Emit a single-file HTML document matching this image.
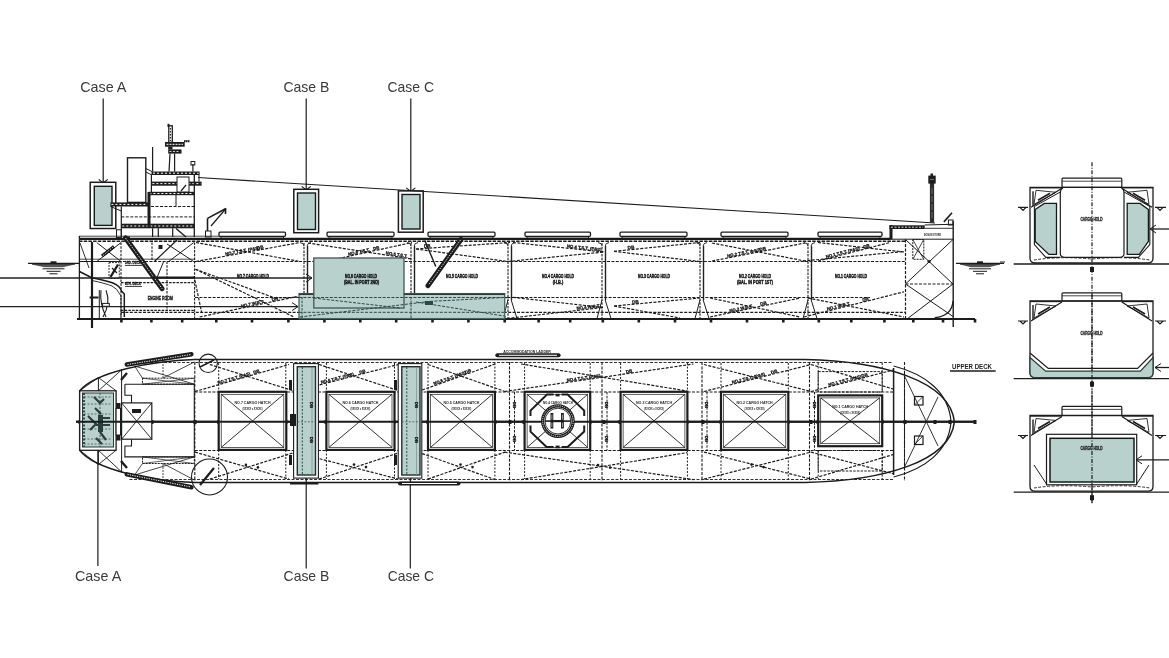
<!DOCTYPE html>
<html><head><meta charset="utf-8"><style>
html,body{margin:0;padding:0;background:#fff;}
body{width:1169px;height:658px;overflow:hidden;font-family:"Liberation Sans",sans-serif;}
svg{display:block;will-change:transform;}
</style></head><body>
<svg width="1169" height="658" viewBox="0 0 1169 658">
<rect width="1169" height="658" fill="#fff"/>
<text x="80.2" y="92" font-family="Liberation Sans" font-size="15" fill="#3a3a3a" font-weight="normal" text-anchor="start" textLength="46.2" lengthAdjust="spacingAndGlyphs">Case A</text>
<text x="283.4" y="92" font-family="Liberation Sans" font-size="15" fill="#3a3a3a" font-weight="normal" text-anchor="start" textLength="46" lengthAdjust="spacingAndGlyphs">Case B</text>
<text x="387.5" y="92" font-family="Liberation Sans" font-size="15" fill="#3a3a3a" font-weight="normal" text-anchor="start" textLength="46.5" lengthAdjust="spacingAndGlyphs">Case C</text>
<text x="75" y="580.5" font-family="Liberation Sans" font-size="15" fill="#3a3a3a" font-weight="normal" text-anchor="start" textLength="46.2" lengthAdjust="spacingAndGlyphs">Case A</text>
<text x="283.6" y="580.8" font-family="Liberation Sans" font-size="15" fill="#3a3a3a" font-weight="normal" text-anchor="start" textLength="45.7" lengthAdjust="spacingAndGlyphs">Case B</text>
<text x="387.7" y="580.8" font-family="Liberation Sans" font-size="15" fill="#3a3a3a" font-weight="normal" text-anchor="start" textLength="46.3" lengthAdjust="spacingAndGlyphs">Case C</text>
<line x1="103.2" y1="98.5" x2="103.2" y2="183" stroke="#1c1c1c" stroke-width="1.2"/>
<path d="M98.7 179.4 L103.2 183 L107.7 179.4" stroke="#1c1c1c" stroke-width="1.1" fill="none"/>
<line x1="306.2" y1="98.5" x2="306.2" y2="190" stroke="#1c1c1c" stroke-width="1.2"/>
<path d="M301.7 186.4 L306.2 190 L310.7 186.4" stroke="#1c1c1c" stroke-width="1.1" fill="none"/>
<line x1="410.8" y1="98.5" x2="410.8" y2="191.5" stroke="#1c1c1c" stroke-width="1.2"/>
<path d="M406.3 187.9 L410.8 191.5 L415.3 187.9" stroke="#1c1c1c" stroke-width="1.1" fill="none"/>
<line x1="97.9" y1="447" x2="97.9" y2="566" stroke="#1c1c1c" stroke-width="1.2"/>
<line x1="306.2" y1="478" x2="306.2" y2="568.5" stroke="#1c1c1c" stroke-width="1.2"/>
<line x1="410.3" y1="478" x2="410.3" y2="568.5" stroke="#1c1c1c" stroke-width="1.2"/>
<rect x="90.2" y="182.3" width="25.6" height="46.2" stroke="#1c1c1c" stroke-width="1.5" fill="#fff"/>
<rect x="94.3" y="186.3" width="17.7" height="39.1" stroke="#141c1b" stroke-width="1.4" fill="#b9d1cd"/>
<rect x="293.8" y="189.3" width="24.8" height="43.4" stroke="#1c1c1c" stroke-width="1.5" fill="#fff"/>
<rect x="297.5" y="193" width="18" height="36.5" stroke="#141c1b" stroke-width="1.4" fill="#b9d1cd"/>
<rect x="398.4" y="190.9" width="24.8" height="41.3" stroke="#1c1c1c" stroke-width="1.5" fill="#fff"/>
<rect x="402" y="194.5" width="18" height="34.5" stroke="#141c1b" stroke-width="1.4" fill="#b9d1cd"/>
<line x1="198" y1="177.5" x2="935" y2="223" stroke="#1c1c1c" stroke-width="1.1"/>
<line x1="79" y1="238.8" x2="890" y2="238.8" stroke="#1c1c1c" stroke-width="2.2"/>
<line x1="79" y1="241.3" x2="905" y2="241.3" stroke="#1c1c1c" stroke-width="1.5" stroke-dasharray="3.5 1.2"/>
<line x1="79" y1="236.2" x2="260" y2="236.2" stroke="#1c1c1c" stroke-width="0.8"/>
<line x1="79.4" y1="236" x2="79.4" y2="319" stroke="#1c1c1c" stroke-width="1.3"/>
<line x1="77" y1="319" x2="975" y2="319" stroke="#1c1c1c" stroke-width="2.2"/>
<rect x="120.1" y="319" width="2.6" height="3.5" fill="#1c1c1c"/>
<rect x="150.1" y="319" width="2.6" height="3.5" fill="#1c1c1c"/>
<rect x="180.9" y="319" width="2.6" height="3.5" fill="#1c1c1c"/>
<rect x="215" y="319" width="2.6" height="3.5" fill="#1c1c1c"/>
<rect x="250.7" y="319" width="2.6" height="3.5" fill="#1c1c1c"/>
<rect x="287.1" y="319" width="2.6" height="3.5" fill="#1c1c1c"/>
<rect x="323.1" y="319" width="2.6" height="3.5" fill="#1c1c1c"/>
<rect x="359" y="319" width="2.6" height="3.5" fill="#1c1c1c"/>
<rect x="394.9" y="319" width="2.6" height="3.5" fill="#1c1c1c"/>
<rect x="431.2" y="319" width="2.6" height="3.5" fill="#1c1c1c"/>
<rect x="467.1" y="319" width="2.6" height="3.5" fill="#1c1c1c"/>
<rect x="503.4" y="319" width="2.6" height="3.5" fill="#1c1c1c"/>
<rect x="537.3" y="319" width="2.6" height="3.5" fill="#1c1c1c"/>
<rect x="568.9" y="319" width="2.6" height="3.5" fill="#1c1c1c"/>
<rect x="601.5" y="319" width="2.6" height="3.5" fill="#1c1c1c"/>
<rect x="637.5" y="319" width="2.6" height="3.5" fill="#1c1c1c"/>
<rect x="673.7" y="319" width="2.6" height="3.5" fill="#1c1c1c"/>
<rect x="709.7" y="319" width="2.6" height="3.5" fill="#1c1c1c"/>
<rect x="745.7" y="319" width="2.6" height="3.5" fill="#1c1c1c"/>
<rect x="782" y="319" width="2.6" height="3.5" fill="#1c1c1c"/>
<rect x="817.5" y="319" width="2.6" height="3.5" fill="#1c1c1c"/>
<rect x="850" y="319" width="2.6" height="3.5" fill="#1c1c1c"/>
<rect x="883.1" y="319" width="2.6" height="3.5" fill="#1c1c1c"/>
<rect x="912" y="319" width="2.6" height="3.5" fill="#1c1c1c"/>
<rect x="941.7" y="319" width="2.6" height="3.5" fill="#1c1c1c"/>
<rect x="973.7" y="319" width="2.6" height="3.5" fill="#1c1c1c"/>
<line x1="92" y1="242" x2="92" y2="328" stroke="#1c1c1c" stroke-width="2.2"/>
<rect x="889.5" y="225" width="3" height="14.5" fill="#1c1c1c"/>
<rect x="889.5" y="225.3" width="35.2" height="3.7" fill="#1c1c1c"/>
<line x1="891" y1="227.2" x2="923" y2="227.2" stroke="#fff" stroke-width="0.8" stroke-dasharray="2 1.5"/>
<line x1="924.7" y1="225" x2="953.5" y2="224.3" stroke="#1c1c1c" stroke-width="1.1"/>
<line x1="924.7" y1="228.3" x2="953.5" y2="228.3" stroke="#1c1c1c" stroke-width="0.9"/>
<line x1="889.5" y1="239.2" x2="953.7" y2="239.2" stroke="#1c1c1c" stroke-width="1"/>
<line x1="953.2" y1="221" x2="953.2" y2="327" stroke="#1c1c1c" stroke-width="1.4"/>
<path d="M953 301 Q952 316 934.7 317.7" stroke="#1c1c1c" stroke-width="1.3" fill="none"/>
<rect x="948.4" y="220" width="4.6" height="5" stroke="#1c1c1c" stroke-width="1" fill="none"/>
<path d="M943.9 221.9 L952 212.7" stroke="#1c1c1c" stroke-width="1.6" fill="none"/>
<text x="924" y="235.5" font-family="Liberation Sans" font-size="4.2" fill="#1c1c1c" font-weight="bold" text-anchor="start" textLength="17" lengthAdjust="spacingAndGlyphs">BOSUN STORE</text>
<rect x="929.9" y="182" width="4.2" height="40.6" fill="#2e2e2e"/>
<line x1="932" y1="188" x2="932" y2="220" stroke="#777" stroke-width="0.8" stroke-dasharray="6 2"/>
<rect x="928.3" y="175.6" width="7.4" height="8" fill="#1c1c1c"/>
<rect x="930.5" y="173.5" width="2.5" height="2.5" fill="#1c1c1c"/>
<line x1="930" y1="179.5" x2="934" y2="179.5" stroke="#888" stroke-width="0.8"/>
<rect x="912.8" y="239.5" width="11" height="19.8" stroke="#1c1c1c" stroke-width="1" fill="none" stroke-dasharray="2 1"/>
<line x1="913" y1="240" x2="923.5" y2="259" stroke="#1c1c1c" stroke-width="0.8"/>
<line x1="923.5" y1="240" x2="913" y2="259" stroke="#1c1c1c" stroke-width="0.8"/>
<line x1="905.5" y1="239.5" x2="905.5" y2="319" stroke="#1c1c1c" stroke-width="1.2" stroke-dasharray="3 1.5"/>
<line x1="905.5" y1="239.5" x2="953" y2="284" stroke="#1c1c1c" stroke-width="1"/>
<line x1="953" y1="239.5" x2="905.5" y2="284" stroke="#1c1c1c" stroke-width="1"/>
<circle cx="929" cy="261.5" r="1.6" stroke="#1c1c1c" stroke-width="0" fill="#1c1c1c"/>
<line x1="905.5" y1="284" x2="953" y2="284" stroke="#1c1c1c" stroke-width="1" stroke-dasharray="3 1.5"/>
<line x1="905.5" y1="284" x2="953" y2="316.5" stroke="#1c1c1c" stroke-width="1"/>
<line x1="953" y1="284" x2="907" y2="319" stroke="#1c1c1c" stroke-width="1"/>
<line x1="79" y1="261.5" x2="905" y2="261.5" stroke="#1c1c1c" stroke-width="1.2" stroke-dasharray="3 1.4"/>
<line x1="79" y1="259.2" x2="195" y2="259.2" stroke="#1c1c1c" stroke-width="0.8"/>
<line x1="195" y1="297.5" x2="870" y2="297.5" stroke="#1c1c1c" stroke-width="1.2" stroke-dasharray="3 1.4"/>
<line x1="121" y1="312.3" x2="905" y2="312.3" stroke="#1c1c1c" stroke-width="1.2" stroke-dasharray="3 1.4"/>
<line x1="304" y1="243" x2="304" y2="318.5" stroke="#1c1c1c" stroke-width="1.1" stroke-dasharray="2.5 1.2"/>
<line x1="307.5" y1="246" x2="307.5" y2="300" stroke="#222" stroke-width="1.4"/>
<path d="M307.2 246 Q307.2 243 311 242.6 M304 246 Q304 243 300 242.6" stroke="#1c1c1c" stroke-width="0.9" fill="none"/>
<path d="M304 300 L299 318.5 M307.2 300 L313 318.5" stroke="#1c1c1c" stroke-width="1" fill="none"/>
<line x1="411" y1="243" x2="411" y2="318.5" stroke="#1c1c1c" stroke-width="1.1" stroke-dasharray="2.5 1.2"/>
<line x1="414.5" y1="246" x2="414.5" y2="300" stroke="#222" stroke-width="1.4"/>
<path d="M414.2 246 Q414.2 243 418 242.6 M411 246 Q411 243 407 242.6" stroke="#1c1c1c" stroke-width="0.9" fill="none"/>
<path d="M411 300 L406 318.5 M414.2 300 L420 318.5" stroke="#1c1c1c" stroke-width="1" fill="none"/>
<line x1="508" y1="243" x2="508" y2="318.5" stroke="#1c1c1c" stroke-width="1.1" stroke-dasharray="2.5 1.2"/>
<line x1="511.5" y1="246" x2="511.5" y2="300" stroke="#222" stroke-width="1.4"/>
<path d="M511.2 246 Q511.2 243 515 242.6 M508 246 Q508 243 504 242.6" stroke="#1c1c1c" stroke-width="0.9" fill="none"/>
<path d="M508 300 L503 318.5 M511.2 300 L517 318.5" stroke="#1c1c1c" stroke-width="1" fill="none"/>
<line x1="602" y1="243" x2="602" y2="318.5" stroke="#1c1c1c" stroke-width="1.1" stroke-dasharray="2.5 1.2"/>
<line x1="605.5" y1="246" x2="605.5" y2="300" stroke="#222" stroke-width="1.4"/>
<path d="M605.2 246 Q605.2 243 609 242.6 M602 246 Q602 243 598 242.6" stroke="#1c1c1c" stroke-width="0.9" fill="none"/>
<path d="M602 300 L597 318.5 M605.2 300 L611 318.5" stroke="#1c1c1c" stroke-width="1" fill="none"/>
<line x1="700" y1="243" x2="700" y2="318.5" stroke="#1c1c1c" stroke-width="1.1" stroke-dasharray="2.5 1.2"/>
<line x1="703.5" y1="246" x2="703.5" y2="300" stroke="#222" stroke-width="1.4"/>
<path d="M703.2 246 Q703.2 243 707 242.6 M700 246 Q700 243 696 242.6" stroke="#1c1c1c" stroke-width="0.9" fill="none"/>
<path d="M700 300 L695 318.5 M703.2 300 L709 318.5" stroke="#1c1c1c" stroke-width="1" fill="none"/>
<line x1="808" y1="243" x2="808" y2="318.5" stroke="#1c1c1c" stroke-width="1.1" stroke-dasharray="2.5 1.2"/>
<line x1="811.5" y1="246" x2="811.5" y2="300" stroke="#222" stroke-width="1.4"/>
<path d="M811.2 246 Q811.2 243 815 242.6 M808 246 Q808 243 804 242.6" stroke="#1c1c1c" stroke-width="0.9" fill="none"/>
<path d="M808 300 L803 318.5 M811.2 300 L817 318.5" stroke="#1c1c1c" stroke-width="1" fill="none"/>
<line x1="194.6" y1="242.6" x2="194.6" y2="319" stroke="#1c1c1c" stroke-width="1.1" stroke-dasharray="2.5 1.2"/>
<line x1="196" y1="261.5" x2="300" y2="242.5" stroke="#1c1c1c" stroke-width="1.2" stroke-dasharray="3 1.4"/>
<line x1="196" y1="242.5" x2="300" y2="261.5" stroke="#1c1c1c" stroke-width="1.2" stroke-dasharray="3 1.4"/>
<line x1="308" y1="243" x2="412" y2="259" stroke="#1c1c1c" stroke-width="1.2" stroke-dasharray="3 1.4"/>
<line x1="325" y1="261.5" x2="412" y2="242.5" stroke="#1c1c1c" stroke-width="1.2" stroke-dasharray="3 1.4"/>
<line x1="416" y1="249" x2="510" y2="242.5" stroke="#1c1c1c" stroke-width="1.2" stroke-dasharray="3 1.4"/>
<line x1="416" y1="249" x2="508" y2="261.5" stroke="#1c1c1c" stroke-width="1.2" stroke-dasharray="3 1.4"/>
<line x1="513" y1="242.5" x2="604" y2="252" stroke="#1c1c1c" stroke-width="1.2" stroke-dasharray="3 1.4"/>
<line x1="508" y1="261.5" x2="604" y2="252" stroke="#1c1c1c" stroke-width="1.2" stroke-dasharray="3 1.4"/>
<line x1="614" y1="251.4" x2="700" y2="242.5" stroke="#1c1c1c" stroke-width="1.2" stroke-dasharray="3 1.4"/>
<line x1="614" y1="251.4" x2="700" y2="261.5" stroke="#1c1c1c" stroke-width="1.2" stroke-dasharray="3 1.4"/>
<line x1="712" y1="243" x2="805" y2="261" stroke="#1c1c1c" stroke-width="1.2" stroke-dasharray="3 1.4"/>
<line x1="712" y1="261" x2="805" y2="243" stroke="#1c1c1c" stroke-width="1.2" stroke-dasharray="3 1.4"/>
<line x1="803" y1="261" x2="904" y2="251.5" stroke="#1c1c1c" stroke-width="1.2" stroke-dasharray="3 1.4"/>
<line x1="818" y1="242.5" x2="904" y2="252" stroke="#1c1c1c" stroke-width="1.2" stroke-dasharray="3 1.4"/>
<line x1="818" y1="261" x2="890" y2="242.5" stroke="#1c1c1c" stroke-width="1.2" stroke-dasharray="3 1.4"/>
<line x1="195.5" y1="269.2" x2="275" y2="298" stroke="#1c1c1c" stroke-width="1.2" stroke-dasharray="3 1.4"/>
<line x1="275" y1="298" x2="298" y2="297.3" stroke="#1c1c1c" stroke-width="1.2" stroke-dasharray="3 1.4"/>
<line x1="195.5" y1="269.2" x2="294" y2="317" stroke="#1c1c1c" stroke-width="1.2" stroke-dasharray="3 1.4"/>
<line x1="199.6" y1="317" x2="296.7" y2="296.6" stroke="#1c1c1c" stroke-width="1.2" stroke-dasharray="3 1.4"/>
<line x1="194" y1="276" x2="201.6" y2="312.3" stroke="#1c1c1c" stroke-width="1.2" stroke-dasharray="3 1.4"/>
<line x1="313.7" y1="298" x2="400" y2="308" stroke="#1c1c1c" stroke-width="1.2" stroke-dasharray="3 1.4"/>
<line x1="300" y1="317" x2="430" y2="301.4" stroke="#1c1c1c" stroke-width="1.2" stroke-dasharray="3 1.4"/>
<line x1="405" y1="309.6" x2="507.6" y2="297.3" stroke="#1c1c1c" stroke-width="1.2" stroke-dasharray="3 1.4"/>
<line x1="416" y1="302" x2="507" y2="317" stroke="#1c1c1c" stroke-width="1.2" stroke-dasharray="3 1.4"/>
<line x1="513" y1="297.3" x2="603" y2="307.5" stroke="#1c1c1c" stroke-width="1.2" stroke-dasharray="3 1.4"/>
<line x1="507" y1="318.5" x2="603" y2="307.5" stroke="#1c1c1c" stroke-width="1.2" stroke-dasharray="3 1.4"/>
<line x1="614" y1="306" x2="700" y2="298" stroke="#1c1c1c" stroke-width="1.2" stroke-dasharray="3 1.4"/>
<line x1="614" y1="306" x2="680" y2="318" stroke="#1c1c1c" stroke-width="1.2" stroke-dasharray="3 1.4"/>
<line x1="710" y1="298" x2="800" y2="317" stroke="#1c1c1c" stroke-width="1.2" stroke-dasharray="3 1.4"/>
<line x1="710" y1="317" x2="800" y2="298" stroke="#1c1c1c" stroke-width="1.2" stroke-dasharray="3 1.4"/>
<line x1="808" y1="298" x2="904" y2="317" stroke="#1c1c1c" stroke-width="1.2" stroke-dasharray="3 1.4"/>
<line x1="804" y1="317" x2="904" y2="291.8" stroke="#1c1c1c" stroke-width="1.2" stroke-dasharray="3 1.4"/>
<text x="242.8" y="252.3" transform="rotate(-10.4 242.8 252.9)" font-family="Liberation Sans" font-size="4.3" font-weight="bold" fill="#1a1a1a" stroke="#1a1a1a" stroke-width="0.3" text-anchor="middle">NO.7 T.S.T. (P&amp;S)</text>
<text x="260.5" y="249.1" transform="rotate(-10.4 260.5 249.7)" font-family="Liberation Sans" font-size="4.6" font-weight="bold" fill="#1a1a1a" stroke="#1a1a1a" stroke-width="0.3" text-anchor="middle">DB</text>
<text x="364.1" y="252.3" transform="rotate(-12.3 364.1 252.9)" font-family="Liberation Sans" font-size="4.3" font-weight="bold" fill="#1a1a1a" stroke="#1a1a1a" stroke-width="0.3" text-anchor="middle">NO.6 T.S.T. &#160; DB</text>
<text x="396.4" y="256" transform="rotate(8.7 396.4 256.6)" font-family="Liberation Sans" font-size="4.3" font-weight="bold" fill="#1a1a1a" stroke="#1a1a1a" stroke-width="0.3" text-anchor="middle">NO.5 T.S.T.</text>
<text x="427.3" y="247.6" transform="rotate(-4 427.3 248.2)" font-family="Liberation Sans" font-size="4.6" font-weight="bold" fill="#1a1a1a" stroke="#1a1a1a" stroke-width="0.3" text-anchor="middle">DB</text>
<text x="584" y="249.3" transform="rotate(6 584 249.9)" font-family="Liberation Sans" font-size="4.3" font-weight="bold" fill="#1a1a1a" stroke="#1a1a1a" stroke-width="0.3" text-anchor="middle">NO.4 T.S.T. (P&amp;S)</text>
<text x="631.2" y="249" transform="rotate(-5.9 631.2 249.6)" font-family="Liberation Sans" font-size="4.6" font-weight="bold" fill="#1a1a1a" stroke="#1a1a1a" stroke-width="0.3" text-anchor="middle">DB</text>
<text x="744.5" y="254.1" transform="rotate(-11 744.5 254.7)" font-family="Liberation Sans" font-size="4.3" font-weight="bold" fill="#1a1a1a" stroke="#1a1a1a" stroke-width="0.3" text-anchor="middle">NO.2 T.S.T. &amp; F.P.</text>
<text x="763.1" y="250.5" transform="rotate(-11 763.1 251.1)" font-family="Liberation Sans" font-size="4.6" font-weight="bold" fill="#1a1a1a" stroke="#1a1a1a" stroke-width="0.3" text-anchor="middle">DB</text>
<text x="843.2" y="253.9" transform="rotate(-14.4 843.2 254.5)" font-family="Liberation Sans" font-size="4.3" font-weight="bold" fill="#1a1a1a" stroke="#1a1a1a" stroke-width="0.3" text-anchor="middle">NO.1 T.S.T. (P&amp;S)</text>
<text x="867" y="247.8" transform="rotate(-14.4 867 248.4)" font-family="Liberation Sans" font-size="4.6" font-weight="bold" fill="#1a1a1a" stroke="#1a1a1a" stroke-width="0.3" text-anchor="middle">DB</text>
<text x="253" y="305.2" transform="rotate(-11.9 253 305.8)" font-family="Liberation Sans" font-size="4.3" font-weight="bold" fill="#1a1a1a" stroke="#1a1a1a" stroke-width="0.3" text-anchor="middle">NO.7 W.B.T.</text>
<text x="275.3" y="300.5" transform="rotate(-11.9 275.3 301.1)" font-family="Liberation Sans" font-size="4.6" font-weight="bold" fill="#1a1a1a" stroke="#1a1a1a" stroke-width="0.3" text-anchor="middle">DB</text>
<text x="425.5" y="306.5" transform="rotate(-6.8 425.5 307.1)" font-family="Liberation Sans" font-size="4.6" font-weight="bold" fill="#1a1a1a" stroke="#1a1a1a" stroke-width="0.3" text-anchor="middle">DB</text>
<text x="588.6" y="308.5" transform="rotate(-6.5 588.6 309.1)" font-family="Liberation Sans" font-size="4.3" font-weight="bold" fill="#1a1a1a" stroke="#1a1a1a" stroke-width="0.3" text-anchor="middle">NO.4 W.B.T.</text>
<text x="635.5" y="303.4" transform="rotate(-5.3 635.5 304)" font-family="Liberation Sans" font-size="4.6" font-weight="bold" fill="#1a1a1a" stroke="#1a1a1a" stroke-width="0.3" text-anchor="middle">DB</text>
<text x="741.5" y="309.8" transform="rotate(-11.9 741.5 310.4)" font-family="Liberation Sans" font-size="4.3" font-weight="bold" fill="#1a1a1a" stroke="#1a1a1a" stroke-width="0.3" text-anchor="middle">NO.2 W.B.T.</text>
<text x="764" y="305" transform="rotate(-11.9 764 305.6)" font-family="Liberation Sans" font-size="4.6" font-weight="bold" fill="#1a1a1a" stroke="#1a1a1a" stroke-width="0.3" text-anchor="middle">DB</text>
<text x="839" y="307.6" transform="rotate(-14.1 839 308.2)" font-family="Liberation Sans" font-size="4.3" font-weight="bold" fill="#1a1a1a" stroke="#1a1a1a" stroke-width="0.3" text-anchor="middle">NO.1 W.B.T.</text>
<text x="866" y="300.8" transform="rotate(-14.1 866 301.4)" font-family="Liberation Sans" font-size="4.6" font-weight="bold" fill="#1a1a1a" stroke="#1a1a1a" stroke-width="0.3" text-anchor="middle">DB</text>
<rect x="221" y="235.5" width="62.5" height="2.5" stroke="#1c1c1c" stroke-width="1" fill="#fff"/>
<rect x="219" y="232.2" width="66.5" height="4.1" stroke="#1c1c1c" stroke-width="1.3" fill="#fff" rx="1"/>
<rect x="329" y="235.5" width="63" height="2.5" stroke="#1c1c1c" stroke-width="1" fill="#fff"/>
<rect x="327" y="232.2" width="67" height="4.1" stroke="#1c1c1c" stroke-width="1.3" fill="#fff" rx="1"/>
<rect x="430" y="235.5" width="63" height="2.5" stroke="#1c1c1c" stroke-width="1" fill="#fff"/>
<rect x="428" y="232.2" width="67" height="4.1" stroke="#1c1c1c" stroke-width="1.3" fill="#fff" rx="1"/>
<rect x="527" y="235.5" width="61.5" height="2.5" stroke="#1c1c1c" stroke-width="1" fill="#fff"/>
<rect x="525" y="232.2" width="65.5" height="4.1" stroke="#1c1c1c" stroke-width="1.3" fill="#fff" rx="1"/>
<rect x="622" y="235.5" width="63" height="2.5" stroke="#1c1c1c" stroke-width="1" fill="#fff"/>
<rect x="620" y="232.2" width="67" height="4.1" stroke="#1c1c1c" stroke-width="1.3" fill="#fff" rx="1"/>
<rect x="723" y="235.5" width="63" height="2.5" stroke="#1c1c1c" stroke-width="1" fill="#fff"/>
<rect x="721" y="232.2" width="67" height="4.1" stroke="#1c1c1c" stroke-width="1.3" fill="#fff" rx="1"/>
<rect x="820" y="235.5" width="60" height="2.5" stroke="#1c1c1c" stroke-width="1" fill="#fff"/>
<rect x="818" y="232.2" width="64" height="4.1" stroke="#1c1c1c" stroke-width="1.3" fill="#fff" rx="1"/>
<text x="253" y="277.5" font-family="Liberation Sans" font-size="5.2" fill="#111" font-weight="bold" text-anchor="middle" stroke="#111" stroke-width="0.4" textLength="32" lengthAdjust="spacingAndGlyphs">NO.7 CARGO HOLD</text>
<text x="462" y="277.5" font-family="Liberation Sans" font-size="5.2" fill="#111" font-weight="bold" text-anchor="middle" stroke="#111" stroke-width="0.4" textLength="32" lengthAdjust="spacingAndGlyphs">NO.5 CARGO HOLD</text>
<text x="558" y="277.5" font-family="Liberation Sans" font-size="5.2" fill="#111" font-weight="bold" text-anchor="middle" stroke="#111" stroke-width="0.4" textLength="32" lengthAdjust="spacingAndGlyphs">NO.4 CARGO HOLD</text>
<text x="558" y="283.5" font-family="Liberation Sans" font-size="5.2" fill="#111" font-weight="bold" text-anchor="middle" stroke="#111" stroke-width="0.4" textLength="10.5" lengthAdjust="spacingAndGlyphs">(H.B.)</text>
<text x="654" y="277.5" font-family="Liberation Sans" font-size="5.2" fill="#111" font-weight="bold" text-anchor="middle" stroke="#111" stroke-width="0.4" textLength="32" lengthAdjust="spacingAndGlyphs">NO.3 CARGO HOLD</text>
<text x="755" y="277.5" font-family="Liberation Sans" font-size="5.2" fill="#111" font-weight="bold" text-anchor="middle" stroke="#111" stroke-width="0.4" textLength="32" lengthAdjust="spacingAndGlyphs">NO.2 CARGO HOLD</text>
<text x="755" y="283.5" font-family="Liberation Sans" font-size="5.2" fill="#111" font-weight="bold" text-anchor="middle" stroke="#111" stroke-width="0.4" textLength="36" lengthAdjust="spacingAndGlyphs">(BAL. IN PORT 1ST)</text>
<text x="851" y="277.5" font-family="Liberation Sans" font-size="5.2" fill="#111" font-weight="bold" text-anchor="middle" stroke="#111" stroke-width="0.4" textLength="32" lengthAdjust="spacingAndGlyphs">NO.1 CARGO HOLD</text>
<rect x="299" y="293.6" width="205.7" height="25" fill="#b9d1cd" stroke="#4a6360" stroke-width="1.3"/><line x1="299" y1="294.2" x2="504.7" y2="294.2" stroke="#2a3c3a" stroke-width="1.4"/>
<rect x="313.8" y="258" width="90.2" height="50" fill="#b9d1cd" stroke="#3f5855" stroke-width="1.3"/>
<text x="361" y="277.5" font-family="Liberation Sans" font-size="5.2" fill="#111" font-weight="bold" text-anchor="middle" stroke="#111" stroke-width="0.4" textLength="32" lengthAdjust="spacingAndGlyphs">NO.6 CARGO HOLD</text>
<text x="361.5" y="283.5" font-family="Liberation Sans" font-size="5.2" fill="#111" font-weight="bold" text-anchor="middle" stroke="#111" stroke-width="0.4" textLength="35" lengthAdjust="spacingAndGlyphs">(BAL. IN PORT 2ND)</text>
<line x1="313.7" y1="298" x2="400" y2="308" stroke="#2a4a46" stroke-width="1" stroke-dasharray="3 1.4"/>
<line x1="300" y1="317" x2="430" y2="301.4" stroke="#2a4a46" stroke-width="1" stroke-dasharray="3 1.4"/>
<line x1="430" y1="301.4" x2="504" y2="297.5" stroke="#2a4a46" stroke-width="1" stroke-dasharray="3 1.4"/>
<line x1="416" y1="302" x2="504" y2="316" stroke="#2a4a46" stroke-width="1" stroke-dasharray="3 1.4"/>
<line x1="299" y1="312.3" x2="504" y2="312.3" stroke="#2a4a46" stroke-width="1" stroke-dasharray="3 1.4"/>
<line x1="299" y1="297.5" x2="504" y2="297.5" stroke="#2a4a46" stroke-width="1" stroke-dasharray="3 1.4"/>
<line x1="411" y1="297" x2="411" y2="318" stroke="#2a4a46" stroke-width="1" stroke-dasharray="2.5 1.2"/>
<line x1="302" y1="297" x2="302" y2="318" stroke="#2a4a46" stroke-width="1" stroke-dasharray="2.5 1.2"/>
<rect x="425" y="301" width="8" height="4" fill="#2a4a46"/>
<path d="M461 239.5 L428 285.6" stroke="#1c1c1c" stroke-width="5" fill="none" stroke-linecap="round"/>
<path d="M460.5 240 L428.5 285" stroke="#fff" stroke-width="1" fill="none" stroke-dasharray="1 1.3"/>
<line x1="424.8" y1="240.5" x2="435.8" y2="266.5" stroke="#1c1c1c" stroke-width="1.4"/>
<line x1="0" y1="278" x2="312" y2="278" stroke="#222" stroke-width="1.4"/>
<path d="M306 274 L312 278 L306 282" stroke="#1c1c1c" stroke-width="1" fill="none"/>
<line x1="0" y1="306.6" x2="298" y2="306.6" stroke="#222" stroke-width="1.4"/>
<path d="M292 302.6 L298 306.6 L292 310.6" stroke="#1c1c1c" stroke-width="1" fill="none"/>
<line x1="28" y1="263.3" x2="79" y2="263.3" stroke="#1c1c1c" stroke-width="1.3"/>
<path d="M32 264.1 L75 264.1 L62.5 266.8 L44.5 266.8 Z" stroke="#1c1c1c" stroke-width="0.6" fill="#555"/>
<line x1="42.5" y1="268.8" x2="64.5" y2="268.8" stroke="#1c1c1c" stroke-width="1"/>
<line x1="46.5" y1="271.3" x2="60.5" y2="271.3" stroke="#1c1c1c" stroke-width="1"/>
<line x1="49.5" y1="273.8" x2="57.5" y2="273.8" stroke="#1c1c1c" stroke-width="1"/>
<rect x="50.5" y="261.3" width="6" height="2" fill="#1c1c1c"/>
<line x1="956" y1="263.3" x2="1004" y2="263.3" stroke="#1c1c1c" stroke-width="1.3"/>
<path d="M960 264.1 L1000 264.1 L989 266.8 L971 266.8 Z" stroke="#1c1c1c" stroke-width="0.6" fill="#555"/>
<line x1="969" y1="268.8" x2="991" y2="268.8" stroke="#1c1c1c" stroke-width="1"/>
<line x1="973" y1="271.3" x2="987" y2="271.3" stroke="#1c1c1c" stroke-width="1"/>
<line x1="976" y1="273.8" x2="984" y2="273.8" stroke="#1c1c1c" stroke-width="1"/>
<rect x="977" y="261.3" width="6" height="2" fill="#1c1c1c"/>
<rect x="127.5" y="157.8" width="18.3" height="44.6" stroke="#1c1c1c" stroke-width="1.4" fill="#fff"/>
<line x1="152.6" y1="147" x2="152.6" y2="171.5" stroke="#1c1c1c" stroke-width="1.2"/>
<rect x="168.8" y="125.8" width="3.5" height="16.6" stroke="#1c1c1c" stroke-width="1.3" fill="#fff"/>
<line x1="170.5" y1="128" x2="170.5" y2="141" stroke="#1c1c1c" stroke-width="1" stroke-dasharray="1.5 1.5"/>
<rect x="167.5" y="123.8" width="2" height="3.2" fill="#1c1c1c"/>
<rect x="165" y="142" width="19.7" height="4.7" fill="#1c1c1c"/>
<line x1="166.5" y1="144.3" x2="183" y2="144.3" stroke="#fff" stroke-width="1" stroke-dasharray="2 1"/>
<rect x="184" y="140.2" width="5.5" height="2" fill="#1c1c1c"/>
<line x1="185" y1="141.2" x2="189" y2="141.2" stroke="#fff" stroke-width="0.6" stroke-dasharray="1 1"/>
<rect x="168.2" y="146.5" width="4.3" height="3" fill="#1c1c1c"/>
<rect x="168.2" y="149.4" width="13.3" height="4.2" fill="#1c1c1c"/>
<line x1="169.5" y1="151.5" x2="180" y2="151.5" stroke="#fff" stroke-width="0.8" stroke-dasharray="2 1.5"/>
<line x1="170" y1="153.6" x2="169" y2="171.5" stroke="#1c1c1c" stroke-width="1.2"/>
<line x1="174.6" y1="153.6" x2="174.6" y2="171.5" stroke="#1c1c1c" stroke-width="1.2"/>
<line x1="192.9" y1="164" x2="192.9" y2="171.5" stroke="#1c1c1c" stroke-width="1.2"/>
<rect x="191" y="161.5" width="3.8" height="3.5" stroke="#1c1c1c" stroke-width="1" fill="none"/>
<rect x="152" y="171.5" width="47.6" height="3.5" fill="#1c1c1c"/>
<line x1="153" y1="173.2" x2="198.6" y2="173.2" stroke="#fff" stroke-width="1" stroke-dasharray="2 2"/>
<path d="M145.8 168.5 L152 171.5 L152 175 L145.8 172" stroke="#1c1c1c" stroke-width="1" fill="none"/>
<rect x="151.4" y="181.6" width="50.2" height="4.1" fill="#1c1c1c"/>
<line x1="152.4" y1="183.6" x2="200.6" y2="183.6" stroke="#fff" stroke-width="1" stroke-dasharray="2 2"/>
<rect x="148.4" y="191.8" width="45.9" height="3.4" fill="#1c1c1c"/>
<line x1="149.4" y1="193.5" x2="193.3" y2="193.5" stroke="#fff" stroke-width="1" stroke-dasharray="2 2"/>
<rect x="110.4" y="202.4" width="38" height="4.1" fill="#1c1c1c"/>
<line x1="111.4" y1="204.4" x2="147.4" y2="204.4" stroke="#fff" stroke-width="1" stroke-dasharray="2 2"/>
<rect x="121.3" y="223.7" width="73" height="4.6" fill="#1c1c1c"/>
<line x1="122.3" y1="226" x2="193.3" y2="226" stroke="#fff" stroke-width="1" stroke-dasharray="2 2"/>
<line x1="199" y1="175" x2="199" y2="181.6" stroke="#1c1c1c" stroke-width="1"/>
<line x1="151.4" y1="175" x2="151.4" y2="192" stroke="#1c1c1c" stroke-width="1.2"/>
<line x1="194.3" y1="175" x2="194.3" y2="237" stroke="#1c1c1c" stroke-width="1.3"/>
<rect x="147.5" y="192" width="3" height="36" fill="#1c1c1c"/>
<line x1="121.3" y1="206.5" x2="121.3" y2="237" stroke="#1c1c1c" stroke-width="1.2"/>
<line x1="151" y1="206.5" x2="194.3" y2="206.5" stroke="#1c1c1c" stroke-width="1" stroke-dasharray="3 1.5"/>
<line x1="121.3" y1="216.9" x2="194.3" y2="216.9" stroke="#1c1c1c" stroke-width="1" stroke-dasharray="3 1.5"/>
<line x1="176" y1="195" x2="176" y2="206" stroke="#1c1c1c" stroke-width="1"/>
<rect x="177" y="177" width="12" height="15" stroke="#1c1c1c" stroke-width="1" fill="#fff"/>
<path d="M181 191 L186 185" stroke="#1c1c1c" stroke-width="1.2" fill="none"/>
<rect x="116.5" y="229.8" width="4.8" height="7.7" stroke="#1c1c1c" stroke-width="1" fill="none"/>
<line x1="152.6" y1="228.3" x2="152.6" y2="237" stroke="#1c1c1c" stroke-width="1.2"/>
<line x1="158.3" y1="228.3" x2="158.3" y2="237" stroke="#1c1c1c" stroke-width="1.2"/>
<line x1="172.7" y1="228.3" x2="172.7" y2="237" stroke="#1c1c1c" stroke-width="1.2"/>
<path d="M176 228.5 L186 237" stroke="#1c1c1c" stroke-width="1.4" fill="none"/>
<path d="M110.5 206.5 L121.3 211" stroke="#1c1c1c" stroke-width="1" fill="none"/>
<rect x="205.5" y="231" width="5.5" height="6" stroke="#1c1c1c" stroke-width="1" fill="none"/>
<line x1="207.5" y1="231" x2="207.5" y2="218.4" stroke="#1c1c1c" stroke-width="1.6"/>
<line x1="207.5" y1="218.4" x2="226" y2="208.5" stroke="#1c1c1c" stroke-width="1.6"/>
<line x1="211" y1="226" x2="226" y2="208.5" stroke="#1c1c1c" stroke-width="1.2"/>
<line x1="225.5" y1="208.5" x2="225.5" y2="214" stroke="#1c1c1c" stroke-width="1.6"/>
<rect x="124" y="236.5" width="6" height="3.5" fill="#1c1c1c"/>
<path d="M125.5 238 L162 288.6" stroke="#1c1c1c" stroke-width="5" fill="none" stroke-linecap="round"/>
<path d="M125.5 238 L162 288.6" stroke="#fff" stroke-width="1" fill="none" stroke-dasharray="1 1.2"/>
<line x1="96.8" y1="242.6" x2="121" y2="261.5" stroke="#1c1c1c" stroke-width="1"/>
<line x1="121" y1="242.6" x2="96.8" y2="261.5" stroke="#1c1c1c" stroke-width="1"/>
<path d="M102 256 L114 246.5" stroke="#1c1c1c" stroke-width="3.4" fill="none"/>
<path d="M103 255.5 L113 247" stroke="#fff" stroke-width="0.8" fill="none" stroke-dasharray="1.5 1.5"/>
<line x1="79.5" y1="261.5" x2="121" y2="261.5" stroke="#1c1c1c" stroke-width="1.2"/>
<line x1="80" y1="243" x2="89" y2="268" stroke="#1c1c1c" stroke-width="0.9"/>
<line x1="152" y1="242.6" x2="152" y2="261.5" stroke="#1c1c1c" stroke-width="1.1" stroke-dasharray="2.5 1.2"/>
<line x1="167" y1="261.5" x2="167" y2="310.3" stroke="#1c1c1c" stroke-width="1.1" stroke-dasharray="2.5 1.2"/>
<line x1="121" y1="242.6" x2="121" y2="319" stroke="#1c1c1c" stroke-width="1.1" stroke-dasharray="2.5 1.2"/>
<line x1="167" y1="244" x2="193.7" y2="261.5" stroke="#1c1c1c" stroke-width="1"/>
<line x1="168.7" y1="261.5" x2="193.7" y2="242.6" stroke="#1c1c1c" stroke-width="1"/>
<path d="M154.4 261.5 L177 240" stroke="#1c1c1c" stroke-width="1.2" fill="none"/>
<rect x="158.5" y="245" width="4" height="4" fill="#1c1c1c"/>
<path d="M163.6 261.5 L157 277.7" stroke="#1c1c1c" stroke-width="1" fill="none"/>
<line x1="152" y1="277.7" x2="195" y2="277.7" stroke="#1c1c1c" stroke-width="2.2"/>
<line x1="121" y1="282.7" x2="195" y2="282.7" stroke="#1c1c1c" stroke-width="1.2" stroke-dasharray="2.5 1.2"/>
<line x1="121" y1="310.3" x2="195" y2="310.3" stroke="#1c1c1c" stroke-width="1.2" stroke-dasharray="2.5 1.2"/>
<rect x="109" y="262.6" width="10.3" height="15.9" stroke="#1c1c1c" stroke-width="0.9" fill="none" stroke-dasharray="2 1"/>
<path d="M110.5 277 L118 264.5" stroke="#1c1c1c" stroke-width="2.4" fill="none"/>
<path d="M112 268 L117 273" stroke="#1c1c1c" stroke-width="1.2" fill="none"/>
<text x="160.3" y="299.5" font-family="Liberation Sans" font-size="5" fill="#1c1c1c" font-weight="bold" text-anchor="middle" stroke="#1c1c1c" stroke-width="0.35" textLength="25" lengthAdjust="spacingAndGlyphs">ENGINE ROOM</text>
<text x="133" y="263.5" font-family="Liberation Sans" font-size="4.4" fill="#1c1c1c" font-weight="bold" text-anchor="middle" stroke="#1c1c1c" stroke-width="0.3" textLength="16" lengthAdjust="spacingAndGlyphs">3RD. DECK</text>
<text x="133" y="284.5" font-family="Liberation Sans" font-size="4.4" fill="#1c1c1c" font-weight="bold" text-anchor="middle" stroke="#1c1c1c" stroke-width="0.3" textLength="16" lengthAdjust="spacingAndGlyphs">4TH. DECK</text>
<line x1="125" y1="265.5" x2="142" y2="265.5" stroke="#1c1c1c" stroke-width="0.8"/>
<line x1="125" y1="286.5" x2="142" y2="286.5" stroke="#1c1c1c" stroke-width="0.8"/>
<path d="M79.5 271.5 L91.7 277.7 Q108 281 113 283 Q120 286 121.5 291 L124.3 294 L124.3 317" stroke="#1c1c1c" stroke-width="1.5" fill="none"/>
<path d="M92 280.5 Q106 283.5 112 286 Q117.5 289 119 293 L121 296 L121 317" stroke="#1c1c1c" stroke-width="0.9" fill="none"/>
<path d="M101 290.2 Q99.5 303 106 317 M106 290.2 Q111 303 103 317" stroke="#1c1c1c" stroke-width="1.1" fill="none"/>
<path d="M99.3 290 L99.3 319" stroke="#1c1c1c" stroke-width="1" fill="none"/>
<rect x="102.6" y="303.4" width="6.7" height="2.9" stroke="#1c1c1c" stroke-width="1" fill="#fff"/>
<rect x="89.6" y="296.5" width="8.9" height="2" fill="#1c1c1c"/>
<path d="M195 359.5 L805 359.5 C882 361 950 381 954.4 421.8 C950 462 882 481 805 482.5 L195 482.5 C150 481 95 470 79.7 450.3 L79.7 390.8 C95 372 150 361 195 359.5 Z" stroke="#1c1c1c" stroke-width="1.5" fill="none"/>
<path d="M128 362.5 L893 362.5 M893 479.5 L128 479.5" stroke="#1c1c1c" stroke-width="0.9" fill="none" stroke-dasharray="3 1.5"/>
<path d="M893.6 366 C925 374 949 392 951 421.8 C949 451 925 469 893.6 477" stroke="#1c1c1c" stroke-width="1.2" fill="none"/>
<line x1="893.6" y1="368" x2="893.6" y2="475" stroke="#1c1c1c" stroke-width="1.5"/>
<line x1="904.5" y1="372" x2="904.5" y2="471" stroke="#1c1c1c" stroke-width="1" stroke-dasharray="3 1.5"/>
<line x1="904.5" y1="376" x2="938" y2="446" stroke="#1c1c1c" stroke-width="0.9"/>
<line x1="904.5" y1="467" x2="938" y2="397" stroke="#1c1c1c" stroke-width="0.9"/>
<rect x="914.5" y="396.5" width="8.5" height="8.5" stroke="#1c1c1c" stroke-width="1.2" fill="none"/>
<line x1="915" y1="404.5" x2="922.5" y2="397" stroke="#1c1c1c" stroke-width="0.8"/>
<rect x="914.5" y="436" width="8.5" height="8.5" stroke="#1c1c1c" stroke-width="1.2" fill="none"/>
<line x1="915" y1="444" x2="922.5" y2="436.5" stroke="#1c1c1c" stroke-width="0.8"/>
<text x="952" y="369" font-family="Liberation Sans" font-size="6.8" fill="#222" font-weight="bold" text-anchor="start" textLength="40" lengthAdjust="spacingAndGlyphs">UPPER  DECK</text>
<line x1="950" y1="371" x2="995.7" y2="371" stroke="#1c1c1c" stroke-width="1.3"/>
<line x1="76" y1="421.8" x2="975" y2="421.8" stroke="#1c1c1c" stroke-width="2"/>
<rect x="78.5" y="420" width="3" height="4" fill="#1c1c1c"/>
<rect x="119.5" y="420" width="3" height="4" fill="#1c1c1c"/>
<rect x="150.5" y="420" width="3" height="4" fill="#1c1c1c"/>
<rect x="193.5" y="420" width="3" height="4" fill="#1c1c1c"/>
<rect x="217.2" y="420" width="3" height="4" fill="#1c1c1c"/>
<rect x="248.5" y="420" width="3" height="4" fill="#1c1c1c"/>
<rect x="284.5" y="420" width="3" height="4" fill="#1c1c1c"/>
<rect x="304.5" y="420" width="3" height="4" fill="#1c1c1c"/>
<rect x="324.5" y="420" width="3" height="4" fill="#1c1c1c"/>
<rect x="359.5" y="420" width="3" height="4" fill="#1c1c1c"/>
<rect x="392.5" y="420" width="3" height="4" fill="#1c1c1c"/>
<rect x="409.5" y="420" width="3" height="4" fill="#1c1c1c"/>
<rect x="426.5" y="420" width="3" height="4" fill="#1c1c1c"/>
<rect x="459.5" y="420" width="3" height="4" fill="#1c1c1c"/>
<rect x="493.5" y="420" width="3" height="4" fill="#1c1c1c"/>
<rect x="508.5" y="420" width="3" height="4" fill="#1c1c1c"/>
<rect x="522.5" y="420" width="3" height="4" fill="#1c1c1c"/>
<rect x="556.5" y="420" width="3" height="4" fill="#1c1c1c"/>
<rect x="588.5" y="420" width="3" height="4" fill="#1c1c1c"/>
<rect x="602.5" y="420" width="3" height="4" fill="#1c1c1c"/>
<rect x="618.5" y="420" width="3" height="4" fill="#1c1c1c"/>
<rect x="653.5" y="420" width="3" height="4" fill="#1c1c1c"/>
<rect x="685.5" y="420" width="3" height="4" fill="#1c1c1c"/>
<rect x="701.5" y="420" width="3" height="4" fill="#1c1c1c"/>
<rect x="719.5" y="420" width="3" height="4" fill="#1c1c1c"/>
<rect x="753.5" y="420" width="3" height="4" fill="#1c1c1c"/>
<rect x="786.5" y="420" width="3" height="4" fill="#1c1c1c"/>
<rect x="809.5" y="420" width="3" height="4" fill="#1c1c1c"/>
<rect x="816.5" y="420" width="3" height="4" fill="#1c1c1c"/>
<rect x="848.5" y="420" width="3" height="4" fill="#1c1c1c"/>
<rect x="880.5" y="420" width="3" height="4" fill="#1c1c1c"/>
<rect x="903.5" y="420" width="3" height="4" fill="#1c1c1c"/>
<rect x="933.5" y="420" width="3" height="4" fill="#1c1c1c"/>
<rect x="948.5" y="420" width="3" height="4" fill="#1c1c1c"/>
<rect x="973.5" y="420" width="3" height="4" fill="#1c1c1c"/>
<rect x="79.7" y="390.8" width="36.4" height="59.5" stroke="#1c1c1c" stroke-width="1.3" fill="#fff"/>
<rect x="82.5" y="393" width="31" height="54" fill="#b9d1cd" stroke="#263a37" stroke-width="1"/>
<line x1="84" y1="397" x2="112" y2="397" stroke="#3c5a56" stroke-width="0.8" stroke-dasharray="2 1.5"/>
<line x1="84" y1="404" x2="112" y2="404" stroke="#3c5a56" stroke-width="0.8" stroke-dasharray="2 1.5"/>
<line x1="84" y1="414" x2="112" y2="414" stroke="#3c5a56" stroke-width="0.8" stroke-dasharray="2 1.5"/>
<line x1="84" y1="429" x2="112" y2="429" stroke="#3c5a56" stroke-width="0.8" stroke-dasharray="2 1.5"/>
<line x1="84" y1="439" x2="112" y2="439" stroke="#3c5a56" stroke-width="0.8" stroke-dasharray="2 1.5"/>
<line x1="84" y1="444" x2="112" y2="444" stroke="#3c5a56" stroke-width="0.8" stroke-dasharray="2 1.5"/>
<line x1="84" y1="393" x2="84" y2="447" stroke="#2a3f3c" stroke-width="1.8" stroke-dasharray="2 1.5"/>
<line x1="100" y1="393" x2="100" y2="447" stroke="#2a3f3c" stroke-width="0.8" stroke-dasharray="2 1.5"/>
<path d="M94 397 L100 403 L104 399 M95 408 L101 414 M88 416 L96 424 L90 430 M98 418 L110 418 M96 425 L110 425 M100 432 L106 440 M96 438 L102 444" stroke="#2a3f3c" stroke-width="2.2" fill="none"/>
<rect x="98" y="415" width="5" height="17" fill="#2a3f3c"/>
<rect x="116.1" y="403" width="4.4" height="5.4" fill="#1c1c1c"/>
<rect x="116.1" y="435" width="4.4" height="5.5" fill="#1c1c1c"/>
<rect x="116.1" y="408.4" width="4.4" height="26.6" stroke="#1c1c1c" stroke-width="1" fill="#fff"/>
<line x1="98.4" y1="377.5" x2="98.4" y2="390.8" stroke="#1c1c1c" stroke-width="1"/>
<line x1="121.6" y1="369.8" x2="121.6" y2="402.9" stroke="#1c1c1c" stroke-width="1"/>
<line x1="98.4" y1="390.8" x2="121.6" y2="369.8" stroke="#1c1c1c" stroke-width="0.9"/>
<line x1="98.4" y1="377.5" x2="116.1" y2="390.8" stroke="#1c1c1c" stroke-width="0.9"/>
<line x1="98.4" y1="464.5" x2="98.4" y2="450.3" stroke="#1c1c1c" stroke-width="1"/>
<line x1="121.6" y1="472" x2="121.6" y2="439.2" stroke="#1c1c1c" stroke-width="1"/>
<line x1="98.4" y1="450.3" x2="121.6" y2="472" stroke="#1c1c1c" stroke-width="0.9"/>
<line x1="98.4" y1="464.5" x2="116.1" y2="450.3" stroke="#1c1c1c" stroke-width="0.9"/>
<line x1="79.7" y1="390.8" x2="98.4" y2="377.5" stroke="#1c1c1c" stroke-width="0.8"/>
<line x1="79.7" y1="450.3" x2="98.4" y2="464.5" stroke="#1c1c1c" stroke-width="0.8"/>
<path d="M121 380 L127 373" stroke="#1c1c1c" stroke-width="2.4" fill="none"/>
<path d="M121 461 L127 468" stroke="#1c1c1c" stroke-width="2.4" fill="none"/>
<rect x="121.6" y="402.9" width="30.2" height="36.3" stroke="#1c1c1c" stroke-width="1.2" fill="#fff"/>
<line x1="121.6" y1="402.9" x2="151.8" y2="439.2" stroke="#1c1c1c" stroke-width="0.9"/>
<line x1="151.8" y1="402.9" x2="121.6" y2="439.2" stroke="#1c1c1c" stroke-width="0.9"/>
<rect x="132" y="409" width="9" height="4" fill="#1c1c1c"/>
<path d="M124.9 384.2 L124.9 395.2 L131.5 395.2 L131.5 402.9 M131.5 439.2 L131.5 446 L124.9 446 L124.9 456.9 L194.3 456.9 L194.3 384.2 L124.9 384.2" stroke="#1c1c1c" stroke-width="1.1" fill="none"/>
<rect x="142.5" y="378.2" width="51.8" height="6" stroke="#1c1c1c" stroke-width="1" fill="none" stroke-dasharray="2 1"/>
<line x1="142.5" y1="378.2" x2="194.3" y2="384.2" stroke="#1c1c1c" stroke-width="0.7"/>
<line x1="142.5" y1="384.2" x2="194.3" y2="378.2" stroke="#1c1c1c" stroke-width="0.7"/>
<rect x="142.5" y="456.9" width="51.8" height="6.6" stroke="#1c1c1c" stroke-width="1" fill="none" stroke-dasharray="2 1"/>
<line x1="142.5" y1="456.9" x2="194.3" y2="463.5" stroke="#1c1c1c" stroke-width="0.7"/>
<line x1="142.5" y1="463.5" x2="194.3" y2="456.9" stroke="#1c1c1c" stroke-width="0.7"/>
<line x1="134.6" y1="366" x2="142.5" y2="378.2" stroke="#1c1c1c" stroke-width="0.8"/>
<line x1="134.6" y1="475" x2="142.5" y2="463.5" stroke="#1c1c1c" stroke-width="0.8"/>
<line x1="163" y1="361" x2="163" y2="378.2" stroke="#1c1c1c" stroke-width="0.8" stroke-dasharray="2 1"/>
<line x1="163" y1="481" x2="163" y2="463.5" stroke="#1c1c1c" stroke-width="0.8" stroke-dasharray="2 1"/>
<line x1="134.6" y1="366" x2="194.3" y2="384.2" stroke="#1c1c1c" stroke-width="0.8"/>
<line x1="194.3" y1="362" x2="163" y2="378" stroke="#1c1c1c" stroke-width="0.8"/>
<line x1="134.6" y1="475" x2="194.3" y2="456.9" stroke="#1c1c1c" stroke-width="0.8"/>
<line x1="194.3" y1="480" x2="163" y2="463.5" stroke="#1c1c1c" stroke-width="0.8"/>
<path d="M126.8 364.5 L191.4 354.2" stroke="#1c1c1c" stroke-width="4.5" fill="none" stroke-linecap="round"/>
<path d="M127.5 364.5 L191 354.5" stroke="#fff" stroke-width="1" fill="none" stroke-dasharray="1.2 1.2"/>
<path d="M126.8 474.4 L191.4 487.3" stroke="#1c1c1c" stroke-width="4.5" fill="none" stroke-linecap="round"/>
<path d="M127.5 474.4 L191 487" stroke="#fff" stroke-width="1" fill="none" stroke-dasharray="1.2 1.2"/>
<path d="M497.3 355.3 L558.6 355.3" stroke="#1c1c1c" stroke-width="4" fill="none" stroke-linecap="round"/>
<path d="M499 355.3 L557 355.3" stroke="#fff" stroke-width="1" fill="none"/>
<text x="527" y="352.5" font-family="Liberation Sans" font-size="3.5" fill="#1c1c1c" font-weight="bold" text-anchor="middle">ACCOMMODATION LADDER</text>
<path d="M400 483.5 L458.4 483.5" stroke="#1c1c1c" stroke-width="4" fill="none" stroke-linecap="round"/>
<path d="M402 483.5 L457 483.5" stroke="#fff" stroke-width="1" fill="none"/>
<circle cx="208.2" cy="363.3" r="9.2" stroke="#1c1c1c" stroke-width="1.1" fill="none"/>
<circle cx="209.5" cy="477" r="18" stroke="#1c1c1c" stroke-width="1.1" fill="none"/>
<line x1="200" y1="485" x2="214" y2="468" stroke="#1c1c1c" stroke-width="2.2"/>
<line x1="200" y1="367" x2="214" y2="360" stroke="#1c1c1c" stroke-width="1.5"/>
<line x1="194.8" y1="362" x2="194.8" y2="481" stroke="#1c1c1c" stroke-width="1.1" stroke-dasharray="3 1.4"/>
<line x1="306" y1="362" x2="306" y2="481" stroke="#1c1c1c" stroke-width="1.1" stroke-dasharray="3 1.4"/>
<line x1="411" y1="362" x2="411" y2="481" stroke="#1c1c1c" stroke-width="1.1" stroke-dasharray="3 1.4"/>
<line x1="904.5" y1="362" x2="904.5" y2="481" stroke="#1c1c1c" stroke-width="1.1" stroke-dasharray="3 1.4"/>
<line x1="509.5" y1="362" x2="509.5" y2="481" stroke="#1c1c1c" stroke-width="1.1" stroke-dasharray="3 1.4"/>
<line x1="514.5" y1="392" x2="514.5" y2="450.5" stroke="#1c1c1c" stroke-width="1" stroke-dasharray="2.5 1.3"/>
<text x="512" y="404.4" transform="rotate(90 512 405)" font-family="Liberation Sans" font-size="4.4" font-weight="bold" fill="#1a1a1a" stroke="#1a1a1a" stroke-width="0.3" text-anchor="middle">DB</text>
<text x="512" y="438.4" transform="rotate(90 512 439)" font-family="Liberation Sans" font-size="4.4" font-weight="bold" fill="#1a1a1a" stroke="#1a1a1a" stroke-width="0.3" text-anchor="middle">DB</text>
<line x1="602" y1="362" x2="602" y2="481" stroke="#1c1c1c" stroke-width="1.1" stroke-dasharray="3 1.4"/>
<line x1="607" y1="392" x2="607" y2="450.5" stroke="#1c1c1c" stroke-width="1" stroke-dasharray="2.5 1.3"/>
<text x="604.5" y="404.4" transform="rotate(90 604.5 405)" font-family="Liberation Sans" font-size="4.4" font-weight="bold" fill="#1a1a1a" stroke="#1a1a1a" stroke-width="0.3" text-anchor="middle">DB</text>
<text x="604.5" y="438.4" transform="rotate(90 604.5 439)" font-family="Liberation Sans" font-size="4.4" font-weight="bold" fill="#1a1a1a" stroke="#1a1a1a" stroke-width="0.3" text-anchor="middle">DB</text>
<line x1="702" y1="362" x2="702" y2="481" stroke="#1c1c1c" stroke-width="1.1" stroke-dasharray="3 1.4"/>
<line x1="707" y1="392" x2="707" y2="450.5" stroke="#1c1c1c" stroke-width="1" stroke-dasharray="2.5 1.3"/>
<text x="704.5" y="404.4" transform="rotate(90 704.5 405)" font-family="Liberation Sans" font-size="4.4" font-weight="bold" fill="#1a1a1a" stroke="#1a1a1a" stroke-width="0.3" text-anchor="middle">DB</text>
<text x="704.5" y="438.4" transform="rotate(90 704.5 439)" font-family="Liberation Sans" font-size="4.4" font-weight="bold" fill="#1a1a1a" stroke="#1a1a1a" stroke-width="0.3" text-anchor="middle">DB</text>
<line x1="809.5" y1="362" x2="809.5" y2="481" stroke="#1c1c1c" stroke-width="1.1" stroke-dasharray="3 1.4"/>
<line x1="814.5" y1="392" x2="814.5" y2="450.5" stroke="#1c1c1c" stroke-width="1" stroke-dasharray="2.5 1.3"/>
<text x="812" y="404.4" transform="rotate(90 812 405)" font-family="Liberation Sans" font-size="4.4" font-weight="bold" fill="#1a1a1a" stroke="#1a1a1a" stroke-width="0.3" text-anchor="middle">DB</text>
<text x="812" y="438.4" transform="rotate(90 812 439)" font-family="Liberation Sans" font-size="4.4" font-weight="bold" fill="#1a1a1a" stroke="#1a1a1a" stroke-width="0.3" text-anchor="middle">DB</text>
<line x1="218.7" y1="363" x2="218.7" y2="391.8" stroke="#1c1c1c" stroke-width="1" stroke-dasharray="2 1.5"/>
<line x1="218.7" y1="450" x2="218.7" y2="479" stroke="#1c1c1c" stroke-width="1" stroke-dasharray="2 1.5"/>
<line x1="285.8" y1="363" x2="285.8" y2="391.8" stroke="#1c1c1c" stroke-width="1" stroke-dasharray="2 1.5"/>
<line x1="285.8" y1="450" x2="285.8" y2="479" stroke="#1c1c1c" stroke-width="1" stroke-dasharray="2 1.5"/>
<line x1="326.4" y1="363" x2="326.4" y2="391.8" stroke="#1c1c1c" stroke-width="1" stroke-dasharray="2 1.5"/>
<line x1="326.4" y1="450" x2="326.4" y2="479" stroke="#1c1c1c" stroke-width="1" stroke-dasharray="2 1.5"/>
<line x1="394.5" y1="363" x2="394.5" y2="391.8" stroke="#1c1c1c" stroke-width="1" stroke-dasharray="2 1.5"/>
<line x1="394.5" y1="450" x2="394.5" y2="479" stroke="#1c1c1c" stroke-width="1" stroke-dasharray="2 1.5"/>
<line x1="428" y1="363" x2="428" y2="391.8" stroke="#1c1c1c" stroke-width="1" stroke-dasharray="2 1.5"/>
<line x1="428" y1="450" x2="428" y2="479" stroke="#1c1c1c" stroke-width="1" stroke-dasharray="2 1.5"/>
<line x1="494.9" y1="363" x2="494.9" y2="391.8" stroke="#1c1c1c" stroke-width="1" stroke-dasharray="2 1.5"/>
<line x1="494.9" y1="450" x2="494.9" y2="479" stroke="#1c1c1c" stroke-width="1" stroke-dasharray="2 1.5"/>
<line x1="524.6" y1="363" x2="524.6" y2="391.8" stroke="#1c1c1c" stroke-width="1" stroke-dasharray="2 1.5"/>
<line x1="524.6" y1="450" x2="524.6" y2="479" stroke="#1c1c1c" stroke-width="1" stroke-dasharray="2 1.5"/>
<line x1="590.2" y1="363" x2="590.2" y2="391.8" stroke="#1c1c1c" stroke-width="1" stroke-dasharray="2 1.5"/>
<line x1="590.2" y1="450" x2="590.2" y2="479" stroke="#1c1c1c" stroke-width="1" stroke-dasharray="2 1.5"/>
<line x1="620.6" y1="363" x2="620.6" y2="391.8" stroke="#1c1c1c" stroke-width="1" stroke-dasharray="2 1.5"/>
<line x1="620.6" y1="450" x2="620.6" y2="479" stroke="#1c1c1c" stroke-width="1" stroke-dasharray="2 1.5"/>
<line x1="687.4" y1="363" x2="687.4" y2="391.8" stroke="#1c1c1c" stroke-width="1" stroke-dasharray="2 1.5"/>
<line x1="687.4" y1="450" x2="687.4" y2="479" stroke="#1c1c1c" stroke-width="1" stroke-dasharray="2 1.5"/>
<line x1="721" y1="363" x2="721" y2="391.8" stroke="#1c1c1c" stroke-width="1" stroke-dasharray="2 1.5"/>
<line x1="721" y1="450" x2="721" y2="479" stroke="#1c1c1c" stroke-width="1" stroke-dasharray="2 1.5"/>
<line x1="788.3" y1="363" x2="788.3" y2="391.8" stroke="#1c1c1c" stroke-width="1" stroke-dasharray="2 1.5"/>
<line x1="788.3" y1="450" x2="788.3" y2="479" stroke="#1c1c1c" stroke-width="1" stroke-dasharray="2 1.5"/>
<line x1="818.2" y1="363" x2="818.2" y2="391.8" stroke="#1c1c1c" stroke-width="1" stroke-dasharray="2 1.5"/>
<line x1="818.2" y1="450" x2="818.2" y2="479" stroke="#1c1c1c" stroke-width="1" stroke-dasharray="2 1.5"/>
<line x1="882.2" y1="363" x2="882.2" y2="391.8" stroke="#1c1c1c" stroke-width="1" stroke-dasharray="2 1.5"/>
<line x1="882.2" y1="450" x2="882.2" y2="479" stroke="#1c1c1c" stroke-width="1" stroke-dasharray="2 1.5"/>
<line x1="194.8" y1="392" x2="893.6" y2="392" stroke="#1c1c1c" stroke-width="1.2" stroke-dasharray="3 1.4"/>
<line x1="194.8" y1="450.5" x2="893.6" y2="450.5" stroke="#1c1c1c" stroke-width="1.2" stroke-dasharray="3 1.4"/>
<line x1="195" y1="391.5" x2="289" y2="364.5" stroke="#1c1c1c" stroke-width="1.2" stroke-dasharray="3 1.4"/>
<line x1="195" y1="452.1" x2="289" y2="479.1" stroke="#1c1c1c" stroke-width="1.2" stroke-dasharray="3 1.4"/>
<line x1="209.8" y1="364.5" x2="294" y2="391" stroke="#1c1c1c" stroke-width="1.2" stroke-dasharray="3 1.4"/>
<line x1="209.8" y1="479.1" x2="294" y2="452.6" stroke="#1c1c1c" stroke-width="1.2" stroke-dasharray="3 1.4"/>
<line x1="294" y1="391.5" x2="398.4" y2="364.5" stroke="#1c1c1c" stroke-width="1.2" stroke-dasharray="3 1.4"/>
<line x1="294" y1="452.1" x2="398.4" y2="479.1" stroke="#1c1c1c" stroke-width="1.2" stroke-dasharray="3 1.4"/>
<line x1="319" y1="364.5" x2="401" y2="391.5" stroke="#1c1c1c" stroke-width="1.2" stroke-dasharray="3 1.4"/>
<line x1="319" y1="479.1" x2="401" y2="452.1" stroke="#1c1c1c" stroke-width="1.2" stroke-dasharray="3 1.4"/>
<line x1="418" y1="391.5" x2="495" y2="364" stroke="#1c1c1c" stroke-width="1.2" stroke-dasharray="3 1.4"/>
<line x1="418" y1="452.1" x2="495" y2="479.6" stroke="#1c1c1c" stroke-width="1.2" stroke-dasharray="3 1.4"/>
<line x1="428" y1="364.5" x2="505" y2="391.5" stroke="#1c1c1c" stroke-width="1.2" stroke-dasharray="3 1.4"/>
<line x1="428" y1="479.1" x2="505" y2="452.1" stroke="#1c1c1c" stroke-width="1.2" stroke-dasharray="3 1.4"/>
<line x1="504.6" y1="391.5" x2="693.5" y2="364" stroke="#1c1c1c" stroke-width="1.2" stroke-dasharray="3 1.4"/>
<line x1="504.6" y1="452.1" x2="693.5" y2="479.6" stroke="#1c1c1c" stroke-width="1.2" stroke-dasharray="3 1.4"/>
<line x1="521" y1="364" x2="687.3" y2="391" stroke="#1c1c1c" stroke-width="1.2" stroke-dasharray="3 1.4"/>
<line x1="521" y1="479.6" x2="687.3" y2="452.6" stroke="#1c1c1c" stroke-width="1.2" stroke-dasharray="3 1.4"/>
<line x1="704" y1="391.5" x2="811" y2="364.5" stroke="#1c1c1c" stroke-width="1.2" stroke-dasharray="3 1.4"/>
<line x1="704" y1="452.1" x2="811" y2="479.1" stroke="#1c1c1c" stroke-width="1.2" stroke-dasharray="3 1.4"/>
<line x1="704" y1="364.5" x2="811" y2="391.5" stroke="#1c1c1c" stroke-width="1.2" stroke-dasharray="3 1.4"/>
<line x1="704" y1="479.1" x2="811" y2="452.1" stroke="#1c1c1c" stroke-width="1.2" stroke-dasharray="3 1.4"/>
<line x1="811" y1="391.5" x2="893" y2="370" stroke="#1c1c1c" stroke-width="1.2" stroke-dasharray="3 1.4"/>
<line x1="811" y1="452.1" x2="893" y2="473.6" stroke="#1c1c1c" stroke-width="1.2" stroke-dasharray="3 1.4"/>
<line x1="811" y1="364.5" x2="893" y2="389" stroke="#1c1c1c" stroke-width="1.2" stroke-dasharray="3 1.4"/>
<line x1="811" y1="479.1" x2="893" y2="454.6" stroke="#1c1c1c" stroke-width="1.2" stroke-dasharray="3 1.4"/>
<text x="234.5" y="379.6" transform="rotate(-16 234.5 380.2)" font-family="Liberation Sans" font-size="4.2" font-weight="bold" fill="#1a1a1a" stroke="#1a1a1a" stroke-width="0.3" text-anchor="middle">NO.7 T.S.T. (P&amp;S)</text>
<text x="257" y="373.1" transform="rotate(-16 257 373.7)" font-family="Liberation Sans" font-size="4.4" font-weight="bold" fill="#1a1a1a" stroke="#1a1a1a" stroke-width="0.3" text-anchor="middle">DB</text>
<text x="337.8" y="379.6" transform="rotate(-14.5 337.8 380.2)" font-family="Liberation Sans" font-size="4.2" font-weight="bold" fill="#1a1a1a" stroke="#1a1a1a" stroke-width="0.3" text-anchor="middle">NO.6 T.S.T. (P&amp;S)</text>
<text x="362.9" y="373.1" transform="rotate(-14.5 362.9 373.7)" font-family="Liberation Sans" font-size="4.4" font-weight="bold" fill="#1a1a1a" stroke="#1a1a1a" stroke-width="0.3" text-anchor="middle">DB</text>
<text x="450.3" y="379.3" transform="rotate(-19.7 450.3 379.9)" font-family="Liberation Sans" font-size="4.2" font-weight="bold" fill="#1a1a1a" stroke="#1a1a1a" stroke-width="0.3" text-anchor="middle">NO.5 T.S.T. (P&amp;S)</text>
<text x="468.8" y="372.8" transform="rotate(-19.7 468.8 373.4)" font-family="Liberation Sans" font-size="4.4" font-weight="bold" fill="#1a1a1a" stroke="#1a1a1a" stroke-width="0.3" text-anchor="middle">DB</text>
<text x="583.9" y="379.3" transform="rotate(-8.3 583.9 379.9)" font-family="Liberation Sans" font-size="4.2" font-weight="bold" fill="#1a1a1a" stroke="#1a1a1a" stroke-width="0.3" text-anchor="middle">NO.4 T.S.T. (P&amp;S)</text>
<text x="629.3" y="372.8" transform="rotate(-8.3 629.3 373.4)" font-family="Liberation Sans" font-size="4.4" font-weight="bold" fill="#1a1a1a" stroke="#1a1a1a" stroke-width="0.3" text-anchor="middle">DB</text>
<text x="748.9" y="379.6" transform="rotate(-14.2 748.9 380.2)" font-family="Liberation Sans" font-size="4.2" font-weight="bold" fill="#1a1a1a" stroke="#1a1a1a" stroke-width="0.3" text-anchor="middle">NO.2 T.S.T. (P&amp;S)</text>
<text x="774.6" y="373.1" transform="rotate(-14.2 774.6 373.7)" font-family="Liberation Sans" font-size="4.4" font-weight="bold" fill="#1a1a1a" stroke="#1a1a1a" stroke-width="0.3" text-anchor="middle">DB</text>
<text x="845.4" y="381.9" transform="rotate(-14.7 845.4 382.5)" font-family="Liberation Sans" font-size="4.2" font-weight="bold" fill="#1a1a1a" stroke="#1a1a1a" stroke-width="0.3" text-anchor="middle">NO.1 T.S.T. (P&amp;S)</text>
<text x="865.1" y="376.7" transform="rotate(-14.7 865.1 377.3)" font-family="Liberation Sans" font-size="4.4" font-weight="bold" fill="#1a1a1a" stroke="#1a1a1a" stroke-width="0.3" text-anchor="middle">DB</text>
<circle cx="245.9" cy="464.9" r="1.3" stroke="#1c1c1c" stroke-width="0" fill="#1c1c1c"/>
<circle cx="257.9" cy="467.4" r="1.3" stroke="#1c1c1c" stroke-width="0" fill="#1c1c1c"/>
<circle cx="354" cy="464.6" r="1.3" stroke="#1c1c1c" stroke-width="0" fill="#1c1c1c"/>
<circle cx="366" cy="467.1" r="1.3" stroke="#1c1c1c" stroke-width="0" fill="#1c1c1c"/>
<circle cx="460.5" cy="464.6" r="1.3" stroke="#1c1c1c" stroke-width="0" fill="#1c1c1c"/>
<circle cx="472.5" cy="467.1" r="1.3" stroke="#1c1c1c" stroke-width="0" fill="#1c1c1c"/>
<circle cx="598.1" cy="465.1" r="1.3" stroke="#1c1c1c" stroke-width="0" fill="#1c1c1c"/>
<circle cx="610.1" cy="467.6" r="1.3" stroke="#1c1c1c" stroke-width="0" fill="#1c1c1c"/>
<circle cx="751.5" cy="464.6" r="1.3" stroke="#1c1c1c" stroke-width="0" fill="#1c1c1c"/>
<circle cx="763.5" cy="467.1" r="1.3" stroke="#1c1c1c" stroke-width="0" fill="#1c1c1c"/>
<rect x="218.7" y="391.8" width="67.6" height="58.1" stroke="#1c1c1c" stroke-width="2.2" fill="#fff"/>
<rect x="221.2" y="394.3" width="62.6" height="53.1" stroke="#1c1c1c" stroke-width="0.7" fill="none"/>
<line x1="221.2" y1="394.3" x2="283.8" y2="447.4" stroke="#1c1c1c" stroke-width="0.9"/>
<line x1="283.8" y1="394.3" x2="221.2" y2="447.4" stroke="#1c1c1c" stroke-width="0.9"/>
<text x="252.5" y="404.3" font-family="Liberation Sans" font-size="4.2" fill="#1c1c1c" font-weight="bold" text-anchor="middle" textLength="36" lengthAdjust="spacingAndGlyphs">NO.7 CARGO HATCH</text>
<text x="252.5" y="410.3" font-family="Liberation Sans" font-size="3.4" fill="#1c1c1c" font-weight="bold" text-anchor="middle" textLength="20" lengthAdjust="spacingAndGlyphs">(XXXXX x XXXXX)</text>
<rect x="326.4" y="391.8" width="68.1" height="58.1" stroke="#1c1c1c" stroke-width="2.2" fill="#fff"/>
<rect x="328.9" y="394.3" width="63.1" height="53.1" stroke="#1c1c1c" stroke-width="0.7" fill="none"/>
<line x1="328.9" y1="394.3" x2="392" y2="447.4" stroke="#1c1c1c" stroke-width="0.9"/>
<line x1="392" y1="394.3" x2="328.9" y2="447.4" stroke="#1c1c1c" stroke-width="0.9"/>
<text x="360.4" y="404.3" font-family="Liberation Sans" font-size="4.2" fill="#1c1c1c" font-weight="bold" text-anchor="middle" textLength="36" lengthAdjust="spacingAndGlyphs">NO.6 CARGO HATCH</text>
<text x="360.4" y="410.3" font-family="Liberation Sans" font-size="3.4" fill="#1c1c1c" font-weight="bold" text-anchor="middle" textLength="20" lengthAdjust="spacingAndGlyphs">(XXXXX x XXXXX)</text>
<rect x="428" y="391.8" width="66.9" height="58.1" stroke="#1c1c1c" stroke-width="2.2" fill="#fff"/>
<rect x="430.5" y="394.3" width="61.9" height="53.1" stroke="#1c1c1c" stroke-width="0.7" fill="none"/>
<line x1="430.5" y1="394.3" x2="492.4" y2="447.4" stroke="#1c1c1c" stroke-width="0.9"/>
<line x1="492.4" y1="394.3" x2="430.5" y2="447.4" stroke="#1c1c1c" stroke-width="0.9"/>
<text x="461.4" y="404.3" font-family="Liberation Sans" font-size="4.2" fill="#1c1c1c" font-weight="bold" text-anchor="middle" textLength="36" lengthAdjust="spacingAndGlyphs">NO.5 CARGO HATCH</text>
<text x="461.4" y="410.3" font-family="Liberation Sans" font-size="3.4" fill="#1c1c1c" font-weight="bold" text-anchor="middle" textLength="20" lengthAdjust="spacingAndGlyphs">(XXXXX x XXXXX)</text>
<rect x="524.6" y="391.8" width="65.6" height="58.1" stroke="#1c1c1c" stroke-width="2.2" fill="#fff"/>
<rect x="527.1" y="394.3" width="60.6" height="53.1" stroke="#1c1c1c" stroke-width="0.7" fill="none"/>
<line x1="527.1" y1="394.3" x2="587.7" y2="447.4" stroke="#1c1c1c" stroke-width="0.9"/>
<line x1="587.7" y1="394.3" x2="527.1" y2="447.4" stroke="#1c1c1c" stroke-width="0.9"/>
<rect x="620.6" y="391.8" width="66.8" height="58.1" stroke="#1c1c1c" stroke-width="2.2" fill="#fff"/>
<rect x="623.1" y="394.3" width="61.8" height="53.1" stroke="#1c1c1c" stroke-width="0.7" fill="none"/>
<line x1="623.1" y1="394.3" x2="684.9" y2="447.4" stroke="#1c1c1c" stroke-width="0.9"/>
<line x1="684.9" y1="394.3" x2="623.1" y2="447.4" stroke="#1c1c1c" stroke-width="0.9"/>
<text x="654" y="404.3" font-family="Liberation Sans" font-size="4.2" fill="#1c1c1c" font-weight="bold" text-anchor="middle" textLength="36" lengthAdjust="spacingAndGlyphs">NO.3 CARGO HATCH</text>
<text x="654" y="410.3" font-family="Liberation Sans" font-size="3.4" fill="#1c1c1c" font-weight="bold" text-anchor="middle" textLength="20" lengthAdjust="spacingAndGlyphs">(XXXXX x XXXXX)</text>
<rect x="721" y="391.8" width="67.3" height="58.1" stroke="#1c1c1c" stroke-width="2.2" fill="#fff"/>
<rect x="723.5" y="394.3" width="62.3" height="53.1" stroke="#1c1c1c" stroke-width="0.7" fill="none"/>
<line x1="723.5" y1="394.3" x2="785.8" y2="447.4" stroke="#1c1c1c" stroke-width="0.9"/>
<line x1="785.8" y1="394.3" x2="723.5" y2="447.4" stroke="#1c1c1c" stroke-width="0.9"/>
<text x="754.6" y="404.3" font-family="Liberation Sans" font-size="4.2" fill="#1c1c1c" font-weight="bold" text-anchor="middle" textLength="36" lengthAdjust="spacingAndGlyphs">NO.2 CARGO HATCH</text>
<text x="754.6" y="410.3" font-family="Liberation Sans" font-size="3.4" fill="#1c1c1c" font-weight="bold" text-anchor="middle" textLength="20" lengthAdjust="spacingAndGlyphs">(XXXXX x XXXXX)</text>
<rect x="818.2" y="395.4" width="64" height="50.8" stroke="#1c1c1c" stroke-width="2.2" fill="#fff"/>
<rect x="820.7" y="397.9" width="59" height="45.8" stroke="#1c1c1c" stroke-width="0.7" fill="none"/>
<line x1="820.7" y1="397.9" x2="879.7" y2="443.7" stroke="#1c1c1c" stroke-width="0.9"/>
<line x1="879.7" y1="397.9" x2="820.7" y2="443.7" stroke="#1c1c1c" stroke-width="0.9"/>
<text x="850.2" y="407.9" font-family="Liberation Sans" font-size="4.2" fill="#1c1c1c" font-weight="bold" text-anchor="middle" textLength="36" lengthAdjust="spacingAndGlyphs">NO.1 CARGO HATCH</text>
<text x="850.2" y="413.9" font-family="Liberation Sans" font-size="3.4" fill="#1c1c1c" font-weight="bold" text-anchor="middle" textLength="20" lengthAdjust="spacingAndGlyphs">(XXXXX x XXXXX)</text>
<rect x="818.2" y="371.6" width="64" height="20.4" stroke="#1c1c1c" stroke-width="1" fill="none" stroke-dasharray="2.5 1.2"/>
<rect x="818.2" y="450.5" width="64" height="20.5" stroke="#1c1c1c" stroke-width="1" fill="none" stroke-dasharray="2.5 1.2"/>
<line x1="76" y1="421.8" x2="975" y2="421.8" stroke="#1c1c1c" stroke-width="2"/>
<path d="M530.5 416 L530.5 410.6 L547 394.5 L553.6 394.5 M561.6 394.5 L567.6 394.5 L584.2 410.6 L584.2 416 M530.5 425.5 L530.5 431.6 L546.6 447 L553.6 447 M561.6 447 L567.6 447 L584.2 431.6 L584.2 425.5" stroke="#1c1c1c" stroke-width="2" fill="none"/>
<rect x="555.6" y="393.8" width="4" height="2.6" fill="#1c1c1c"/>
<rect x="555.6" y="445.6" width="4" height="2.6" fill="#1c1c1c"/>
<circle cx="557.9" cy="421.1" r="15.3" stroke="#1c1c1c" stroke-width="3.2" fill="#fff"/>
<circle cx="557.9" cy="421.1" r="15.3" stroke="#fff" stroke-width="0.9" fill="none" stroke-dasharray="1 1"/>
<circle cx="557.9" cy="421.1" r="12.9" stroke="#1c1c1c" stroke-width="0.9" fill="#fff"/>
<line x1="544.9" y1="421.1" x2="570.9" y2="421.1" stroke="#1c1c1c" stroke-width="1.6"/>
<path d="M551.9 413.1 L551.9 428.6 M562.4 413.1 L562.4 428.6" stroke="#1c1c1c" stroke-width="2.8" fill="none"/>
<path d="M551.9 414.6 L551.9 419.6 M551.9 422.6 L551.9 427.1 M562.4 414.6 L562.4 419.6 M562.4 422.6 L562.4 427.1" stroke="#fff" stroke-width="0.6" fill="none"/>
<line x1="551.9" y1="421.1" x2="562.4" y2="421.1" stroke="#1c1c1c" stroke-width="2.2"/>
<text x="557.9" y="403.8" font-family="Liberation Sans" font-size="4.2" fill="#1c1c1c" font-weight="bold" text-anchor="middle" textLength="30" lengthAdjust="spacingAndGlyphs">NO.4 CARGO HATCH</text>
<rect x="293.6" y="363.6" width="24.8" height="114.5" stroke="#1c1c1c" stroke-width="1.1" fill="#fff"/>
<rect x="297.3" y="366.7" width="18.2" height="108.3" stroke="#1f2f2d" stroke-width="1.4" fill="#b9d1cd"/>
<line x1="302.3" y1="367" x2="302.3" y2="475" stroke="#2a4a46" stroke-width="1" stroke-dasharray="2 1.5"/>
<line x1="312" y1="367" x2="312" y2="475" stroke="#6d8683" stroke-width="0.6"/>
<text x="309.5" y="404.4" transform="rotate(90 309.5 405)" font-family="Liberation Sans" font-size="4.4" font-weight="bold" fill="#1a1a1a" stroke="#1a1a1a" stroke-width="0.3" text-anchor="middle">DB</text>
<text x="309.5" y="439.4" transform="rotate(90 309.5 440)" font-family="Liberation Sans" font-size="4.4" font-weight="bold" fill="#1a1a1a" stroke="#1a1a1a" stroke-width="0.3" text-anchor="middle">DB</text>
<line x1="297.3" y1="421.8" x2="315.5" y2="421.8" stroke="#3d5552" stroke-width="0.8" stroke-dasharray="2 1.5"/>
<rect x="398.2" y="363.6" width="23.6" height="114.5" stroke="#1c1c1c" stroke-width="1.1" fill="#fff"/>
<rect x="401.8" y="366.7" width="18.2" height="108.3" stroke="#1f2f2d" stroke-width="1.4" fill="#b9d1cd"/>
<line x1="406.8" y1="367" x2="406.8" y2="475" stroke="#2a4a46" stroke-width="1" stroke-dasharray="2 1.5"/>
<line x1="416.5" y1="367" x2="416.5" y2="475" stroke="#6d8683" stroke-width="0.6"/>
<text x="414" y="404.4" transform="rotate(90 414 405)" font-family="Liberation Sans" font-size="4.4" font-weight="bold" fill="#1a1a1a" stroke="#1a1a1a" stroke-width="0.3" text-anchor="middle">DB</text>
<text x="414" y="439.4" transform="rotate(90 414 440)" font-family="Liberation Sans" font-size="4.4" font-weight="bold" fill="#1a1a1a" stroke="#1a1a1a" stroke-width="0.3" text-anchor="middle">DB</text>
<line x1="401.8" y1="421.8" x2="420" y2="421.8" stroke="#3d5552" stroke-width="0.8" stroke-dasharray="2 1.5"/>
<rect x="289" y="380" width="3" height="10" fill="#1c1c1c"/>
<rect x="289" y="455" width="3" height="10" fill="#1c1c1c"/>
<rect x="394" y="380" width="3" height="10" fill="#1c1c1c"/>
<rect x="394" y="455" width="3" height="10" fill="#1c1c1c"/>
<rect x="290" y="414" width="6" height="12" fill="#1c1c1c"/>
<line x1="290" y1="483.5" x2="318.4" y2="483.5" stroke="#1c1c1c" stroke-width="2"/>
<rect x="1062" y="178.2" width="59.8" height="9.1" stroke="#1c1c1c" stroke-width="1.2" fill="#fff" rx="1"/>
<line x1="1062" y1="181.2" x2="1121.8" y2="181.2" stroke="#1c1c1c" stroke-width="0.8"/>
<path d="M1030 187.3 L1030 258 Q1030 263 1035 263 L1148 263 Q1153 263 1153 258 L1153 187.3 Z" stroke="#1c1c1c" stroke-width="1.3" fill="none"/>
<line x1="1030" y1="187.8" x2="1062" y2="187.8" stroke="#1c1c1c" stroke-width="1.3"/>
<line x1="1121.8" y1="187.8" x2="1153" y2="187.8" stroke="#1c1c1c" stroke-width="1.3"/>
<path d="M1031 207.3 L1062 188.3 M1152 207.3 L1121.8 188.3" stroke="#1c1c1c" stroke-width="1.2" fill="none"/>
<path d="M1034 204.3 L1036 190.3 L1056 192.3 Z" stroke="#1c1c1c" stroke-width="0.9" fill="none"/>
<path d="M1149 204.3 L1147 190.3 L1127 192.3 Z" stroke="#1c1c1c" stroke-width="0.9" fill="none"/>
<path d="M1038 200.3 L1050 193.3 M1145 200.3 L1133 193.3" stroke="#1c1c1c" stroke-width="1.6" fill="none"/>
<line x1="1033" y1="191.3" x2="1033" y2="206.3" stroke="#1c1c1c" stroke-width="1.4"/>
<line x1="1013.7" y1="264" x2="1169" y2="264" stroke="#1c1c1c" stroke-width="1.3"/>
<line x1="1092" y1="162.2" x2="1092" y2="275" stroke="#1c1c1c" stroke-width="1.2" stroke-dasharray="4 1.5 1 1.5"/>
<path d="M1018 207.3 L1028 207.3 M1020 207.3 L1023 210.3 L1026 207.3" stroke="#1c1c1c" stroke-width="1.2" fill="none"/>
<path d="M1155 207.3 L1166 207.3 M1157 207.3 L1160 210.3 L1163 207.3" stroke="#1c1c1c" stroke-width="1.2" fill="none"/>
<rect x="1090" y="267" width="4" height="5" fill="#1c1c1c"/>
<text x="1091.5" y="220.6" font-family="Liberation Sans" font-size="4.6" fill="#1c1c1c" font-weight="bold" text-anchor="middle" stroke="#1c1c1c" stroke-width="0.3" textLength="22" lengthAdjust="spacingAndGlyphs">CARGO HOLD</text>
<path d="M1060.3 193.6 Q1060.3 189 1063 188.2 M1060.3 193.6 L1060.3 253.5 Q1060.3 257 1064 257.4 L1120 257.4 Q1124 257 1124 253.5 L1124 193.6 Q1124 189 1121.5 188.2" stroke="#1c1c1c" stroke-width="1.2" fill="none"/>
<path d="M1034.4 206.5 L1034.4 244.5 L1045.8 257.4 L1060.3 257.4 M1149.8 206.5 L1149.8 244.5 L1138.4 257.4 L1124 257.4" stroke="#1c1c1c" stroke-width="1.1" fill="none"/>
<path d="M1034.4 206.5 L1060.3 192 M1149.8 206.5 L1124 192" stroke="#1c1c1c" stroke-width="1" fill="none"/>
<path d="M1035.2 209.5 L1044.3 203.4 L1056.5 203.4 L1056.5 254.4 L1048.9 254.4 L1035.2 241.4 Z" stroke="#141c1b" stroke-width="1.3" fill="#b9d1cd"/>
<path d="M1148.4 209.5 L1140 203.4 L1127.2 203.4 L1127.2 254.4 L1139.3 254.4 L1148.4 241.4 Z" stroke="#141c1b" stroke-width="1.3" fill="#b9d1cd"/>
<path d="M1034 260 Q1060 256 1092 259 Q1124 256 1150 260" stroke="#1c1c1c" stroke-width="0.9" fill="none" stroke-dasharray="3 1.5"/>
<line x1="1150" y1="229" x2="1169" y2="229" stroke="#1c1c1c" stroke-width="1.3"/>
<path d="M1156 225 L1150 229 L1156 233" stroke="#1c1c1c" stroke-width="1" fill="none"/>
<line x1="1000" y1="262" x2="1005" y2="262" stroke="#1c1c1c" stroke-width="1"/>
<rect x="1062" y="292.8" width="59.8" height="8.2" stroke="#1c1c1c" stroke-width="1.2" fill="#fff" rx="1"/>
<line x1="1062" y1="295.8" x2="1121.8" y2="295.8" stroke="#1c1c1c" stroke-width="0.8"/>
<path d="M1030 301 L1030 372.6 Q1030 377.6 1035 377.6 L1148 377.6 Q1153 377.6 1153 372.6 L1153 301 Z" stroke="#1c1c1c" stroke-width="1.3" fill="none"/>
<line x1="1030" y1="301.5" x2="1062" y2="301.5" stroke="#1c1c1c" stroke-width="1.3"/>
<line x1="1121.8" y1="301.5" x2="1153" y2="301.5" stroke="#1c1c1c" stroke-width="1.3"/>
<path d="M1031 321 L1062 302 M1152 321 L1121.8 302" stroke="#1c1c1c" stroke-width="1.2" fill="none"/>
<path d="M1034 318 L1036 304 L1056 306 Z" stroke="#1c1c1c" stroke-width="0.9" fill="none"/>
<path d="M1149 318 L1147 304 L1127 306 Z" stroke="#1c1c1c" stroke-width="0.9" fill="none"/>
<path d="M1038 314 L1050 307 M1145 314 L1133 307" stroke="#1c1c1c" stroke-width="1.6" fill="none"/>
<line x1="1033" y1="305" x2="1033" y2="320" stroke="#1c1c1c" stroke-width="1.4"/>
<line x1="1013.7" y1="378.6" x2="1169" y2="378.6" stroke="#1c1c1c" stroke-width="1.3"/>
<line x1="1092" y1="276.8" x2="1092" y2="389.6" stroke="#1c1c1c" stroke-width="1.2" stroke-dasharray="4 1.5 1 1.5"/>
<path d="M1018 321 L1028 321 M1020 321 L1023 324 L1026 321" stroke="#1c1c1c" stroke-width="1.2" fill="none"/>
<path d="M1155 321 L1166 321 M1157 321 L1160 324 L1163 321" stroke="#1c1c1c" stroke-width="1.2" fill="none"/>
<rect x="1090" y="381.6" width="4" height="5" fill="#1c1c1c"/>
<text x="1091.5" y="334.7" font-family="Liberation Sans" font-size="4.6" fill="#1c1c1c" font-weight="bold" text-anchor="middle" stroke="#1c1c1c" stroke-width="0.3" textLength="22" lengthAdjust="spacingAndGlyphs">CARGO HOLD</text>
<path d="M1030 357.5 L1045.6 371.2 L1140.4 371.2 L1153 357.5 L1153 372.6 Q1153 377.6 1148 377.6 L1035 377.6 Q1030 377.6 1030 372.6 Z" stroke="#263a37" stroke-width="1.2" fill="#b9d1cd"/>
<path d="M1030 353 L1048.3 368.4 L1137.6 368.4 L1153 353" stroke="#1c1c1c" stroke-width="1.2" fill="none"/>
<line x1="1092" y1="295" x2="1092" y2="390" stroke="#1c1c1c" stroke-width="1.2" stroke-dasharray="4 1.5 1 1.5"/>
<line x1="1155" y1="367.5" x2="1169" y2="367.5" stroke="#1c1c1c" stroke-width="1.3"/>
<path d="M1161 363.5 L1155 367.5 L1161 371.5" stroke="#1c1c1c" stroke-width="1" fill="none"/>
<rect x="1062" y="406.4" width="59.8" height="9.1" stroke="#1c1c1c" stroke-width="1.2" fill="#fff" rx="1"/>
<line x1="1062" y1="409.4" x2="1121.8" y2="409.4" stroke="#1c1c1c" stroke-width="0.8"/>
<path d="M1030 415.5 L1030 486.2 Q1030 491.2 1035 491.2 L1148 491.2 Q1153 491.2 1153 486.2 L1153 415.5 Z" stroke="#1c1c1c" stroke-width="1.3" fill="none"/>
<line x1="1030" y1="416" x2="1062" y2="416" stroke="#1c1c1c" stroke-width="1.3"/>
<line x1="1121.8" y1="416" x2="1153" y2="416" stroke="#1c1c1c" stroke-width="1.3"/>
<path d="M1031 435.5 L1062 416.5 M1152 435.5 L1121.8 416.5" stroke="#1c1c1c" stroke-width="1.2" fill="none"/>
<path d="M1034 432.5 L1036 418.5 L1056 420.5 Z" stroke="#1c1c1c" stroke-width="0.9" fill="none"/>
<path d="M1149 432.5 L1147 418.5 L1127 420.5 Z" stroke="#1c1c1c" stroke-width="0.9" fill="none"/>
<path d="M1038 428.5 L1050 421.5 M1145 428.5 L1133 421.5" stroke="#1c1c1c" stroke-width="1.6" fill="none"/>
<line x1="1033" y1="419.5" x2="1033" y2="434.5" stroke="#1c1c1c" stroke-width="1.4"/>
<line x1="1013.7" y1="492.2" x2="1169" y2="492.2" stroke="#1c1c1c" stroke-width="1.3"/>
<line x1="1092" y1="390.4" x2="1092" y2="503.2" stroke="#1c1c1c" stroke-width="1.2" stroke-dasharray="4 1.5 1 1.5"/>
<path d="M1018 435.5 L1028 435.5 M1020 435.5 L1023 438.5 L1026 435.5" stroke="#1c1c1c" stroke-width="1.2" fill="none"/>
<path d="M1155 435.5 L1166 435.5 M1157 435.5 L1160 438.5 L1163 435.5" stroke="#1c1c1c" stroke-width="1.2" fill="none"/>
<rect x="1090" y="495.2" width="4" height="5" fill="#1c1c1c"/>
<text x="1091.5" y="448.8" font-family="Liberation Sans" font-size="4.6" fill="#1c1c1c" font-weight="bold" text-anchor="middle" stroke="#1c1c1c" stroke-width="0.3" textLength="22" lengthAdjust="spacingAndGlyphs">CARGO HOLD</text>
<rect x="1046.5" y="434.3" width="90.2" height="50.5" stroke="#1c1c1c" stroke-width="1.2" fill="#fff"/>
<rect x="1050" y="438.3" width="84" height="43.7" stroke="#141c1b" stroke-width="1.5" fill="#b9d1cd"/>
<text x="1091.5" y="450" font-family="Liberation Sans" font-size="4.6" fill="#1c1c1c" font-weight="bold" text-anchor="middle" stroke="#1c1c1c" stroke-width="0.3" textLength="22" lengthAdjust="spacingAndGlyphs">CARGO HOLD</text>
<line x1="1092" y1="395" x2="1092" y2="503" stroke="#1c1c1c" stroke-width="1.2" stroke-dasharray="4 1.5 1 1.5"/>
<path d="M1034 465 L1046.5 484 M1149 465 L1136.7 484" stroke="#1c1c1c" stroke-width="1" fill="none"/>
<path d="M1034 488 Q1060 484 1092 487 Q1124 484 1150 488" stroke="#1c1c1c" stroke-width="0.9" fill="none" stroke-dasharray="3 1.5"/>
<line x1="1136" y1="459.8" x2="1169" y2="459.8" stroke="#1c1c1c" stroke-width="1.3"/>
<path d="M1142 455.8 L1136 459.8 L1142 463.8" stroke="#1c1c1c" stroke-width="1" fill="none"/>
</svg>
</body></html>
